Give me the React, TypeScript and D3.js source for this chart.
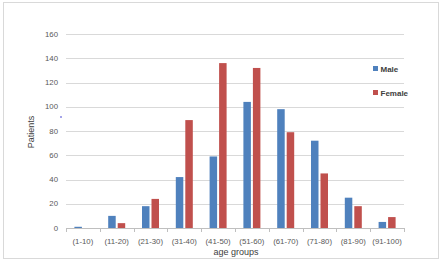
import React from 'react';
import * as d3 from 'd3';

const categories = ['(1-10)', '(11-20)', '(21-30)', '(31-40)', '(41-50)', '(51-60)', '(61-70)', '(71-80)', '(81-90)', '(91-100)'];
const male = [1, 10, 18, 42, 59, 104, 98, 72, 25, 5];
const female = [0, 4, 24, 89, 136, 132, 79, 45, 18, 9];
const yTicks = [0, 20, 40, 60, 80, 100, 120, 140, 160];

const W = 443;
const H = 263;
const margin = { left: 66, right: 39, top: 34, bottom: 35 };
const MALE = '#4F81BD';
const FEMALE = '#C0504D';
const FONT = '"Liberation Sans", Arial, sans-serif';

const App: React.FC = () => {
  const x = d3.scaleBand<string>()
    .domain(categories)
    .range([margin.left, W - margin.right]);
  const y = d3.scaleLinear()
    .domain([0, 160])
    .range([H - margin.bottom, margin.top]);

  const barW = 7.5;
  const gap = 1;

  return (
    <svg width={W} height={H} style={{ position: 'absolute', left: 0, top: 0 }} fontFamily={FONT}>
      <rect x={0} y={0} width={W} height={H} fill="#fff" />
      <rect x={3.5} y={2.5} width={435} height={256} fill="none" stroke="#D9D9D9" />

      {/* grid */}
      {yTicks.map(t => (
        <g key={t}>
          {t > 0 && (
            <line x1={margin.left} x2={W - margin.right} y1={Math.round(y(t)) + 0.5} y2={Math.round(y(t)) + 0.5} stroke="#D9D9D9" />
          )}
          <text x={58} y={y(t)} dy="0.35em" textAnchor="end" fontSize={7.8} fill="#595959">{t}</text>
        </g>
      ))}

      {/* bars */}
      {categories.map((c, i) => {
        const cx = (x(c) || 0) + x.bandwidth() / 2;
        return (
          <g key={c}>
            <rect x={cx - gap - barW} y={y(male[i])} width={barW} height={y(0) - y(male[i])} fill={MALE} />
            <rect x={cx + gap} y={y(female[i])} width={barW} height={y(0) - y(female[i])} fill={FEMALE} />
          </g>
        );
      })}

      {/* x axis */}
      <line x1={margin.left} x2={W - margin.right} y1={Math.round(y(0)) + 0.5} y2={Math.round(y(0)) + 0.5} stroke="#BFBFBF" />
      {categories.map(c => (
        <line key={'t' + c} x1={Math.round(x(c) || 0) + 0.5} x2={Math.round(x(c) || 0) + 0.5} y1={y(0)} y2={y(0) + 4} stroke="#BFBFBF" />
      ))}
      <line x1={W - margin.right + 0.5} x2={W - margin.right + 0.5} y1={y(0)} y2={y(0) + 4} stroke="#BFBFBF" />
      {categories.map(c => (
        <text key={'l' + c} x={(x(c) || 0) + x.bandwidth() / 2} y={241} dy="0.35em" textAnchor="middle" fontSize={7.8} fill="#595959">{c}</text>
      ))}

      <text x={236} y={252} dy="0.35em" textAnchor="middle" fontSize={9} fill="#404040">age groups</text>
      <text transform="translate(31,132) rotate(-90)" dy="0.35em" textAnchor="middle" fontSize={9} fill="#404040">Patients</text>
      <circle cx={61} cy={117} r={0.8} fill="#3333cc" />

      {/* legend */}
      <rect x={373} y={66} width={5} height={5} fill={MALE} />
      <text x={380.5} y={69} dy="0.35em" fontSize={8} fontWeight="bold" fill="#404040">Male</text>
      <rect x={373} y={90} width={5} height={5} fill={FEMALE} />
      <text x={380.5} y={93} dy="0.35em" fontSize={8} fontWeight="bold" fill="#404040">Female</text>
    </svg>
  );
};

export default App;
